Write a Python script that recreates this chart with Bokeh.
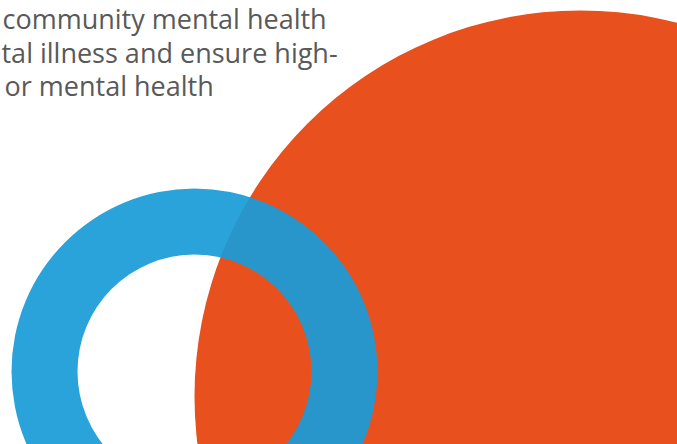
from bokeh.plotting import figure
from bokeh.models import Range1d, GlobalInlineStyleSheet
from bokeh.core.properties import value
from bokeh.embed import file_html
from bokeh.resources import INLINE

# Shapes (screen-like coordinates, y grows downward)
disc_x = [580]
disc_y = [396]
disc_r = [386]

ring_x = [194]
ring_y = [371]
ring_inner = [117]
ring_outer = [183]

# Visible text fragments (the reference crops the paragraph at the left)
text_lines = [
    "community mental health",
    "tal illness and ensure high-",
    "or mental health",
]
text_x = [2, 1, 4]
text_y = [18, 52, 85]

W, H = 677, 444
p = figure(width=W, height=H, output_backend="svg", toolbar_location=None,
           x_range=Range1d(0, W), y_range=Range1d(H, 0),
           min_border=0, min_border_left=0, min_border_right=0,
           min_border_top=0, min_border_bottom=0)
p.axis.visible = False
p.grid.visible = False
p.outline_line_color = None
p.background_fill_color = "white"
p.border_fill_color = "white"
p.stylesheets = [GlobalInlineStyleSheet(css="html, body { margin: 0; padding: 0; overflow: hidden; }")]

p.text(x=text_x, y=text_y, text=text_lines, text_font=value("Open Sans"),
       text_font_size="27px", text_color="#595959", text_baseline="alphabetic",
       text_align="left")

p.circle(x=disc_x, y=disc_y, radius=disc_r, fill_color="#e8501e", line_color=None)

p.annulus(x=ring_x, y=ring_y, inner_radius=ring_inner, outer_radius=ring_outer,
          fill_color="#199cd7", fill_alpha=0.93, line_color=None)

open("out.html", "w").write(file_html(p, INLINE))
